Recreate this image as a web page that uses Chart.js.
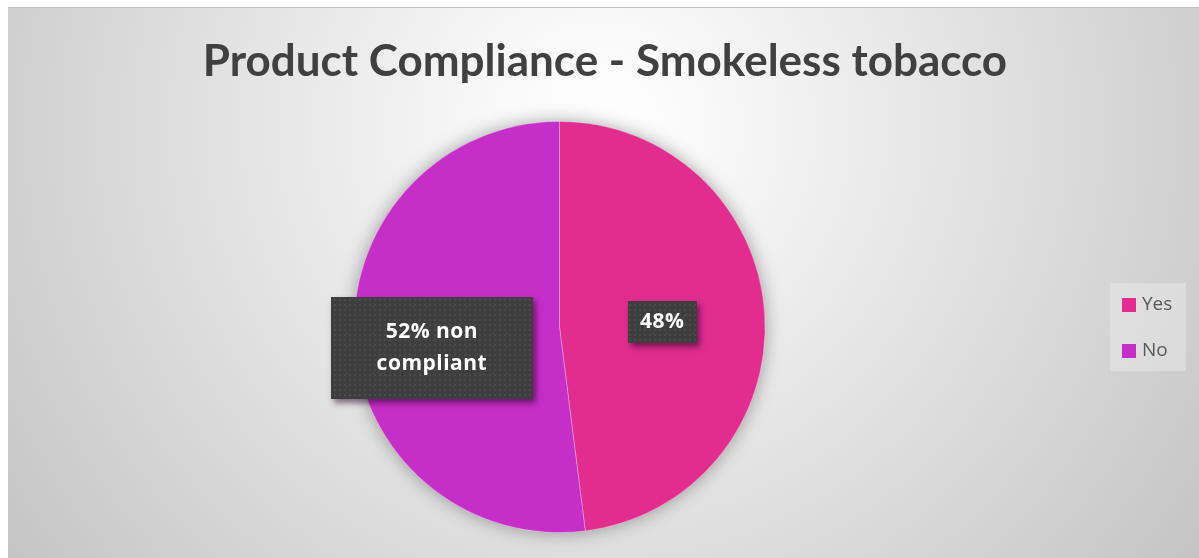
<!DOCTYPE html>
<html>
<head>
<meta charset="utf-8">
<script src="https://cdn.jsdelivr.net/npm/chart.js@4/dist/chart.umd.min.js"></script>
<style>
  html, body { margin: 0; padding: 0; background: #ffffff; }
  #frame {
    position: absolute; left: 8px; top: 7px; width: 1191px; height: 551px;
    border-top: 1px solid #bdbdbd; box-sizing: border-box;
    background: radial-gradient(circle farthest-corner at 592px 120px, #ffffff 0%, #fafafa 12%, #c4c4c4 100%);
  }
  #chart { display: block; }
</style>
</head>
<body>
<div id="frame"><canvas id="chart" width="1191" height="550"></canvas></div>
<script>
// Survey result: share of smokeless tobacco products found compliant
const categories = ['Yes', 'No'];
const shares = [48, 52];
const sliceColors = ['#E22D8F', '#C62EC8'];
const chartTitle = 'Product Compliance - Smokeless tobacco';
const labelTexts = [
  v => [v + '%'],
  v => [v + '% non', 'compliant']
];

// Label box placement relative to each slice's centroid, and box size
const labelBoxes = [
  { dx: 0, dy: 1, w: 69, h: 42 },
  { dx: -25, dy: 15, w: 202, h: 102 }
];

function dottedPattern(ctx) {
  const c = document.createElement('canvas');
  c.width = 5; c.height = 5;
  const g = c.getContext('2d');
  g.fillStyle = '#3e3e3e';
  g.fillRect(0, 0, 5, 5);
  g.fillStyle = '#4b4b4b';
  g.fillRect(1, 1, 2, 2);
  return ctx.createPattern(c, 'repeat');
}

// Heading, centred above the pie
const heading = {
  id: 'heading',
  afterDraw(chart) {
    const ctx = chart.ctx;
    ctx.save();
    ctx.fillStyle = '#404040';
    ctx.font = 'bold 44px Lato, "Open Sans", sans-serif';
    ctx.textAlign = 'center';
    ctx.textBaseline = 'alphabetic';
    ctx.fillText(chartTitle, 597, 68);
    ctx.restore();
  }
};

// Soft halo underneath the pie
const pieShadow = {
  id: 'pieShadow',
  beforeDatasetsDraw(chart) {
    const arc = chart.getDatasetMeta(0).data[0];
    if (!arc) return;
    const ctx = chart.ctx;
    ctx.save();
    ctx.shadowColor = 'rgba(0,0,0,0.35)';
    ctx.shadowBlur = 18;
    ctx.fillStyle = '#d0d0d0';
    ctx.beginPath();
    ctx.arc(arc.x, arc.y, arc.outerRadius, 0, Math.PI * 2);
    ctx.fill();
    ctx.restore();
  }
};

// Dark call-out boxes carrying the slice values
const calloutLabels = {
  id: 'calloutLabels',
  afterDatasetsDraw(chart) {
    const ctx = chart.ctx;
    const meta = chart.getDatasetMeta(0);
    const pattern = dottedPattern(ctx);
    meta.data.forEach((arc, i) => {
      const p = arc.tooltipPosition();
      const box = labelBoxes[i];
      const cx = p.x + box.dx, cy = p.y + box.dy;
      const x0 = Math.round(cx - box.w / 2), y0 = Math.round(cy - box.h / 2);
      ctx.save();
      ctx.shadowColor = 'rgba(40,0,40,0.55)';
      ctx.shadowBlur = 6;
      ctx.shadowOffsetX = 3;
      ctx.shadowOffsetY = 4;
      ctx.fillStyle = '#3e3e3e';
      ctx.fillRect(x0, y0, box.w, box.h);
      ctx.restore();
      ctx.save();
      ctx.fillStyle = pattern;
      ctx.fillRect(x0, y0, box.w, box.h);
      const lines = labelTexts[i](chart.data.datasets[0].data[i]);
      ctx.fillStyle = '#ffffff';
      ctx.font = 'bold 21px "Open Sans", sans-serif';
      ctx.letterSpacing = '0.5px';
      ctx.textAlign = 'center';
      ctx.textBaseline = 'middle';
      const lh = 32;
      lines.forEach((t, k) => {
        ctx.fillText(t, cx, cy + (k - (lines.length - 1) / 2) * lh);
      });
      ctx.restore();
    });
  }
};

// Legend panel at the right edge
const sideLegend = {
  id: 'sideLegend',
  afterDraw(chart) {
    const ctx = chart.ctx;
    const left = 1102, top = 275, w = 76, h = 88;
    ctx.save();
    ctx.fillStyle = 'rgba(232,232,232,0.55)';
    ctx.fillRect(left, top, w, h);
    ctx.font = '19px "Open Sans", sans-serif';
    ctx.textBaseline = 'middle';
    ctx.textAlign = 'left';
    chart.data.labels.forEach((lab, i) => {
      const y = top + 22 + i * 46;
      ctx.fillStyle = chart.data.datasets[0].backgroundColor[i];
      ctx.fillRect(left + 12, y - 7, 14, 14);
      ctx.fillStyle = '#595959';
      ctx.fillText(lab, left + 32, y);
    });
    ctx.restore();
  }
};

new Chart(document.getElementById('chart'), {
  type: 'pie',
  data: {
    labels: categories,
    datasets: [{
      data: shares,
      backgroundColor: sliceColors,
      borderColor: 'rgba(255,255,255,0.35)',
      borderWidth: 0.8
    }]
  },
  options: {
    responsive: false,
    animation: false,
    layout: { padding: { top: 113, left: 0, right: 88, bottom: 25 } },
    plugins: {
      legend: { display: false },
      tooltip: { enabled: false },
      title: { display: false }
    }
  },
  plugins: [pieShadow, calloutLabels, sideLegend, heading]
});
</script>
</body>
</html>
